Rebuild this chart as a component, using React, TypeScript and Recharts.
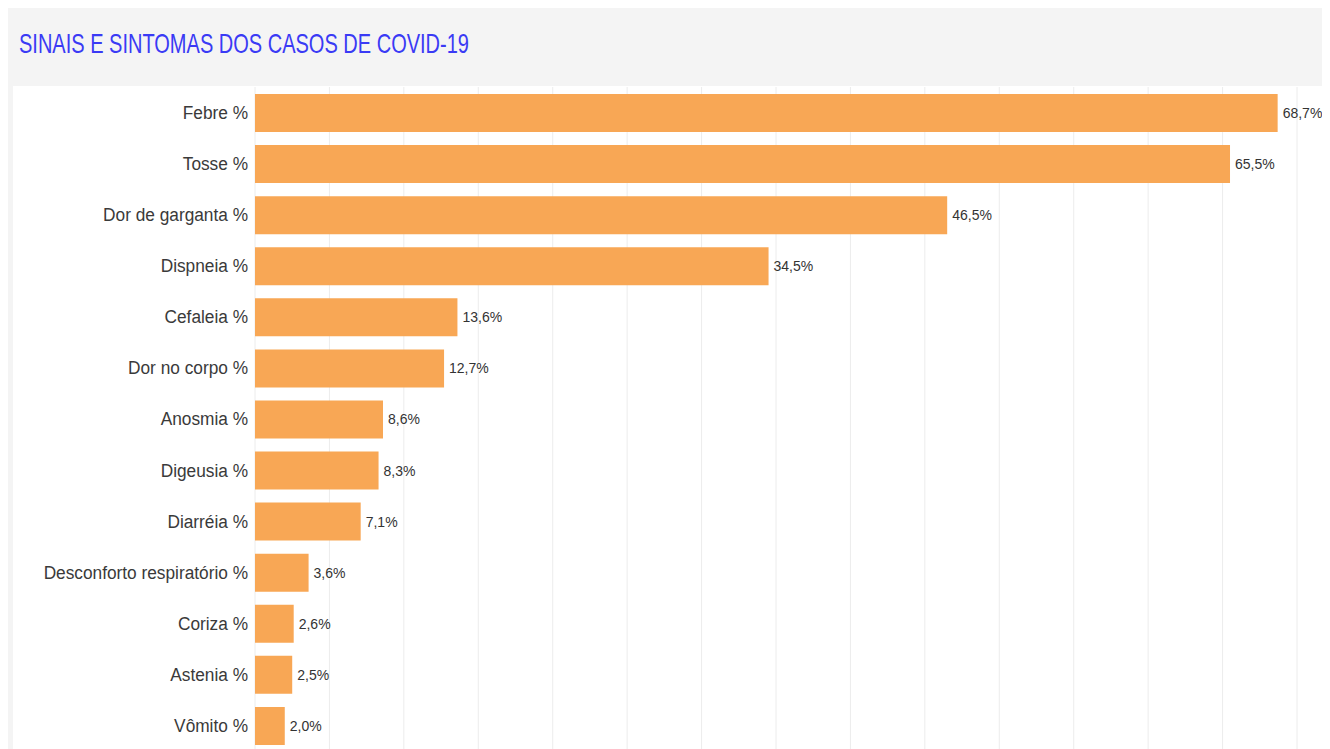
import React from "react";
import { BarChart, Bar, XAxis, YAxis, CartesianGrid, LabelList } from "recharts";

const categories = [
  "Febre %",
  "Tosse %",
  "Dor de garganta %",
  "Dispneia %",
  "Cefaleia %",
  "Dor no corpo %",
  "Anosmia %",
  "Digeusia %",
  "Diarréia %",
  "Desconforto respiratório %",
  "Coriza %",
  "Astenia %",
  "Vômito %",
];
const values = [68.7, 65.5, 46.5, 34.5, 13.6, 12.7, 8.6, 8.3, 7.1, 3.6, 2.6, 2.5, 2.0];
const xTicks = [0, 5, 10, 15, 20, 25, 30, 35, 40, 45, 50, 55, 60, 65, 70];
const title = "SINAIS E SINTOMAS DOS CASOS DE COVID-19";

const data = categories.map((name, i) => ({ name, value: values[i] }));

const FONT = "'Liberation Sans', Arial, sans-serif";

const fmt = (v: any) => `${Number(v).toFixed(1).replace(".", ",")}%`;

const CatTick = (props: any) => {
  const { x, y, payload } = props;
  return (
    <g transform={`translate(${x},${y})`}>
      <text
        x={0}
        y={0}
        dy="0.36em"
        textAnchor="end"
        transform="scale(0.96,1)"
        fill="#3a3a3a"
        fontSize={18}
        fontFamily={FONT}
      >
        {payload.value}
      </text>
    </g>
  );
};

export default function App() {
  return (
    <div
      style={{
        position: "relative",
        width: 1317,
        height: 741,
        background: "#f4f4f4",
        overflow: "hidden",
        fontFamily: FONT,
      }}
    >
      <svg width={1300} height={70} style={{ position: "absolute", left: 0, top: 0 }}>
        <text
          x={11}
          y={45}
          fontSize={28}
          fontFamily={FONT}
          fill="#3a3af5"
          textLength={450}
          lengthAdjust="spacingAndGlyphs"
        >
          {title}
        </text>
      </svg>
      <div
        style={{
          position: "absolute",
          left: 5,
          top: 78,
          width: 1312,
          height: 670,
          background: "#ffffff",
        }}
      >
        <BarChart
          width={1312}
          height={665}
          data={data}
          layout="vertical"
          margin={{ top: 1, right: 28, bottom: 0, left: 0 }}
          barSize={38}
        >
          <CartesianGrid horizontal={false} stroke="#ececec" strokeWidth={1} />
          <XAxis type="number" domain={[0, 70]} ticks={xTicks} hide />
          <YAxis
            type="category"
            dataKey="name"
            width={242}
            axisLine={false}
            tickLine={false}
            tickMargin={1}
            tick={<CatTick />}
            interval={0}
          />
          <Bar dataKey="value" fill="#f8a755" isAnimationActive={false}>
            <LabelList
              dataKey="value"
              position="right"
              offset={5}
              formatter={fmt}
              style={{ fill: "#333333", fontSize: 14, fontFamily: FONT }}
            />
          </Bar>
        </BarChart>
      </div>
    </div>
  );
}
